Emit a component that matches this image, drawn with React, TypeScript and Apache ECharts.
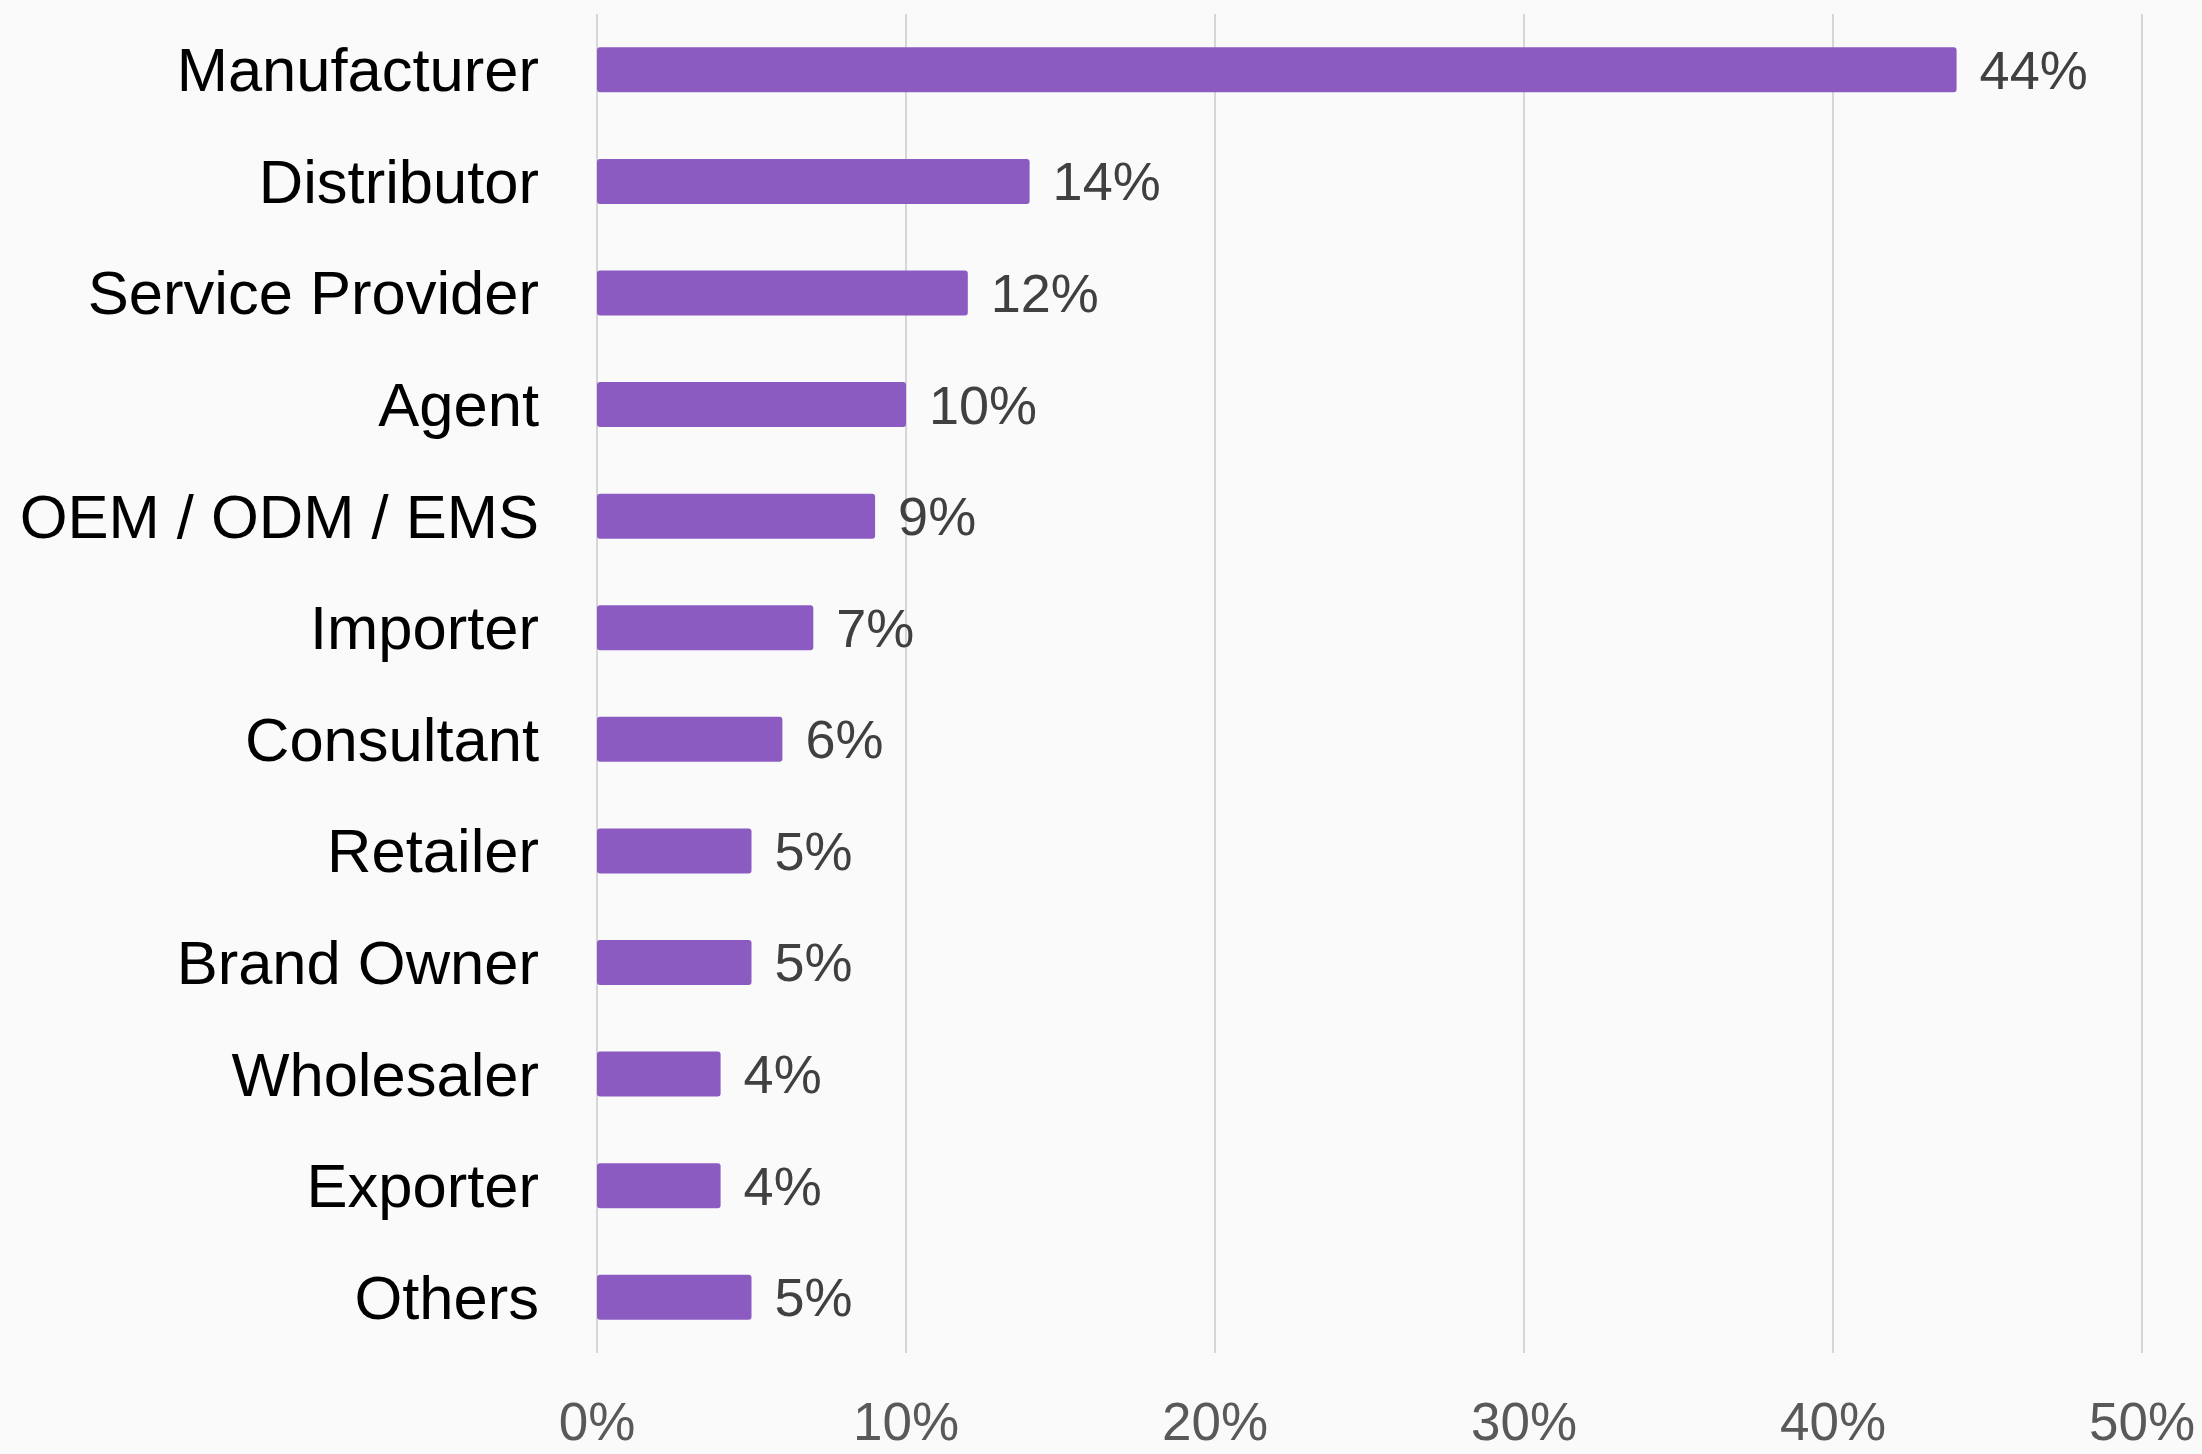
import React, { useEffect, useRef } from "react";
import * as echarts from "echarts";

const categories = [
  "Manufacturer",
  "Distributor",
  "Service Provider",
  "Agent",
  "OEM / ODM / EMS",
  "Importer",
  "Consultant",
  "Retailer",
  "Brand Owner",
  "Wholesaler",
  "Exporter",
  "Others",
];
const shares = [44, 14, 12, 10, 9, 7, 6, 5, 5, 4, 4, 5];
const axisMin = 0;
const axisMax = 50;
const axisStep = 10;

const FONT = "'Liberation Sans', Arial, sans-serif";

export default function App() {
  const ref = useRef<HTMLDivElement>(null);
  useEffect(() => {
    if (!ref.current) return;
    const chart = echarts.init(ref.current, undefined, { renderer: "svg" });
    chart.setOption({
      animation: false,
      backgroundColor: "#fafafa",
      grid: {
        left: 597,
        right: 60,
        top: 14,
        bottom: 101,
        containLabel: false,
        outerBoundsMode: "none",
      },
      xAxis: {
        type: "value",
        min: axisMin,
        max: axisMax,
        interval: axisStep,
        axisLine: { show: false },
        axisTick: { show: false },
        splitLine: { show: true, lineStyle: { color: "#d6d6d6", width: 2 } },
        axisLabel: {
          formatter: "{value}%",
          color: "#595959",
          fontFamily: FONT,
          fontSize: 53,
          lineHeight: 44,
          margin: 46,
        },
      },
      yAxis: {
        type: "category",
        data: categories,
        inverse: true,
        axisLine: { show: false },
        axisTick: { show: false },
        splitLine: { show: false },
        axisLabel: {
          color: "#000000",
          fontFamily: FONT,
          fontSize: 61.5,
          margin: 58,
        },
      },
      series: [
        {
          type: "bar",
          data: shares,
          barWidth: 45,
          itemStyle: { color: "#8b5bc2", borderRadius: 3 },
          label: {
            show: true,
            position: "right",
            distance: 23,
            formatter: "{c}%",
            color: "#404040",
            fontFamily: FONT,
            fontSize: 54,
          },
        },
      ],
    });
    return () => chart.dispose();
  }, []);
  return (
    <div
      ref={ref}
      style={{ position: "fixed", left: 0, top: 0, width: "100vw", height: "100vh" }}
    />
  );
}
